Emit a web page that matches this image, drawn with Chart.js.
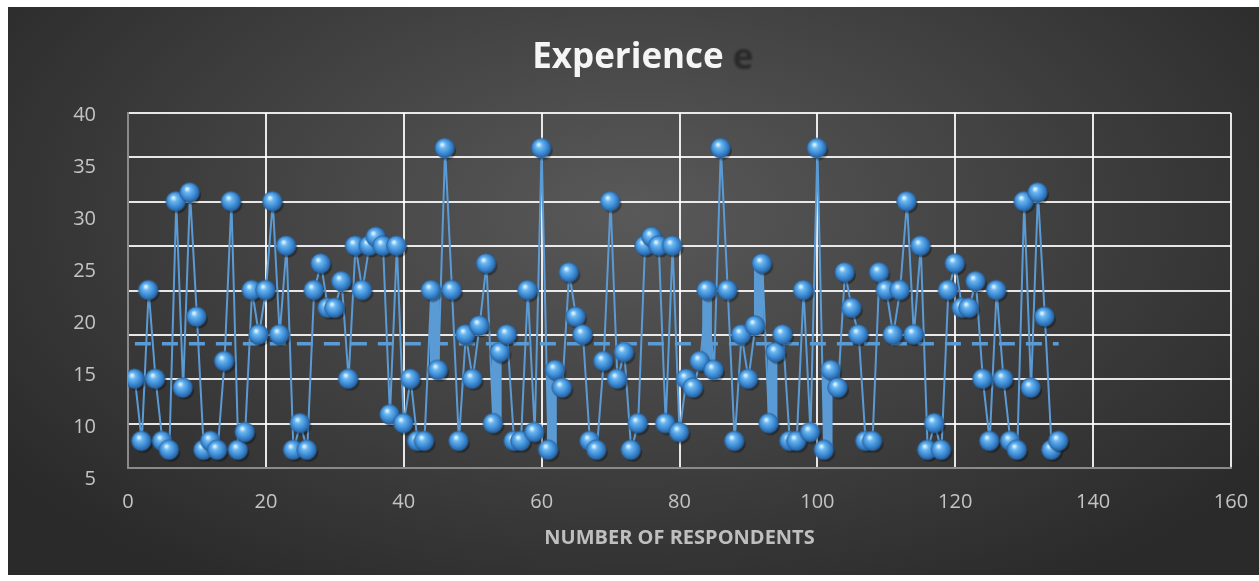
<!DOCTYPE html>
<html>
<head>
<meta charset="utf-8">
<script src="https://cdn.jsdelivr.net/npm/chart.js@4.4.1/dist/chart.umd.min.js"></script>
<style>
    html, body { margin: 0; padding: 0; background: #fff; }
    #moldura {
        position: absolute; left: 8px; top: 7px; width: 1251px; height: 568px;
        background: radial-gradient(ellipse 62% 78% at 50% 36%, #595959 0%, #444 45%, #2a2a2a 100%);
    }
    canvas { display: block; }
</style>
</head>
<body>
<div id="moldura"><canvas id="meuGrafico" width="1251" height="568"></canvas></div>
<script>
// anos de experiencia de cada respondente (1..135)
var experiencia = [
    10, 3, 20, 10, 3, 2, 30, 9, 31, 17,
    2, 3, 2, 12, 30, 2, 4, 20, 15, 20,
    30, 15, 25, 2, 5, 2, 20, 23, 18, 18,
    21, 10, 25, 20, 25, 26, 25, 6, 25, 5,
    10, 3, 3, 20, 11, 36, 20, 3, 15, 10,
    16, 23, 5, 13, 15, 3, 3, 20, 4, 36,
    2, 11, 9, 22, 17, 15, 3, 2, 12, 30,
    10, 13, 2, 5, 25, 26, 25, 5, 25, 4,
    10, 9, 12, 20, 11, 36, 20, 3, 15, 10,
    16, 23, 5, 13, 15, 3, 3, 20, 4, 36,
    2, 11, 9, 22, 18, 15, 3, 3, 22, 20,
    15, 20, 30, 15, 25, 2, 5, 2, 20, 23,
    18, 18, 21, 10, 3, 20, 10, 3, 2, 30,
    9, 31, 17, 2, 3
];
var mediaExperiencia = 14;               // linha tracejada
var trechosGrossos = [[44, 45], [53, 54], [61, 62], [83, 85], [91, 92], [93, 94], [101, 102]];
var rotulosX = [0, 20, 40, 60, 80, 100, 120, 140, 160];
var rotulosY = [40, 35, 30, 25, 20, 15, 10, 5];

Chart.defaults.font.family = "'Open Sans', sans-serif";

// bolinha "3D" usada como ponto
function criaEsfera() {
    var c = document.createElement('canvas');
    c.width = 24; c.height = 24;
    var g = c.getContext('2d');
    g.fillStyle = 'rgba(0,0,0,0.35)';
    g.beginPath(); g.arc(13.5, 14, 9.5, 0, Math.PI * 2); g.fill();
    var grad = g.createRadialGradient(9, 8, 1, 11, 11, 11);
    grad.addColorStop(0, '#d6efff');
    grad.addColorStop(0.22, '#6bb8f2');
    grad.addColorStop(0.65, '#3b88d2');
    grad.addColorStop(1, '#1f5a98');
    g.fillStyle = grad;
    g.beginPath(); g.arc(11.5, 11.5, 9.8, 0, Math.PI * 2); g.fill();
    g.strokeStyle = '#2c5f95'; g.lineWidth = 0.8; g.stroke();
    return c;
}
var esfera = criaEsfera();

var pontos = experiencia.map(function (v, i) { return { x: i + 1, y: v }; });
var media = [{ x: 1, y: mediaExperiencia }, { x: experiencia.length, y: mediaExperiencia }];
var barras = trechosGrossos.map(function (t) {
    var vals = experiencia.slice(t[0] - 1, t[1]);
    return { x: (t[0] + t[1]) / 2, y: [Math.min.apply(null, vals), Math.max.apply(null, vals)] };
});

var fantasma = {
    id: 'fantasma',
    afterDraw: function (chart) {
        var ctx = chart.ctx;
        ctx.save();
        ctx.filter = 'blur(1.2px)';
        ctx.fillStyle = 'rgba(28,28,28,0.7)';
        ctx.font = "bold 35px 'Open Sans'";
        ctx.textAlign = 'center';
        ctx.textBaseline = 'middle';
        ctx.fillText('e', 735, 52);
        ctx.restore();
    }
};

var grade = { color: 'rgba(255,255,255,0.88)', lineWidth: 2, drawTicks: false };
var fonteTick = { size: 20 };

new Chart(document.getElementById('meuGrafico').getContext('2d'), {
    type: 'line',
    data: {
        datasets: [{
            type: 'line',
            data: pontos,
            borderColor: '#5b9bd5',
            borderWidth: 2,
            pointStyle: esfera,
            pointRadius: 10,
            order: 0
        }, {
            type: 'line',
            data: media,
            borderColor: '#5b9bd5',
            borderWidth: 3.5,
            borderDash: [16, 11],
            pointRadius: 0,
            order: 1
        }, {
            type: 'bar',
            data: barras,
            backgroundColor: '#5b9bd5',
            barThickness: 9,
            order: 2
        }]
    },
    options: {
        responsive: false,
        animation: false,
        layout: { padding: { left: 0, right: 11, top: 0, bottom: 0 } },
        plugins: {
            legend: { display: false },
            tooltip: { enabled: false },
            title: {
                display: true,
                text: 'Experience',
                color: '#f5f5f5',
                font: { size: 35, weight: 'bold' },
                padding: { top: 30, bottom: 34 }
            }
        },
        scales: {
            x: {
                type: 'linear', min: 0, max: 160, offset: false,
                afterBuildTicks: function (s) { s.ticks = rotulosX.map(function (v) { return { value: v }; }); },
                ticks: { color: '#c4c4c4', font: fonteTick, padding: 22, maxRotation: 0, autoSkip: false },
                grid: Object.assign({ offset: false }, grade),
                border: { color: '#8a8a8a', width: 2 },
                title: {
                    display: true, text: 'NUMBER OF RESPONDENTS', color: '#bfbfbf',
                    font: { size: 20, weight: 'bold' }, padding: { top: 4, bottom: 25 }
                },
                afterFit: function (s) { s.height = 107; s.paddingRight = 28; s.paddingLeft = 0; }
            },
            y: {
                type: 'linear', position: 'left', weight: 0, min: 0, max: 40,
                ticks: { stepSize: 5, display: false },
                grid: grade,
                border: { color: '#8a8a8a', width: 2 },
                afterFit: function (s) { s.width = 0; }
            },
            yRotulo: {
                type: 'linear', position: 'left', weight: 1, min: 6.12, max: 40.19,
                grid: { display: false },
                border: { display: false },
                afterBuildTicks: function (s) { s.ticks = rotulosY.map(function (v) { return { value: v }; }); },
                ticks: { color: '#c4c4c4', font: fonteTick, padding: 24, autoSkip: false },
                afterFit: function (s) { s.width = 120; }
            }
        }
    },
    plugins: [fantasma]
});
</script>
</body>
</html>
